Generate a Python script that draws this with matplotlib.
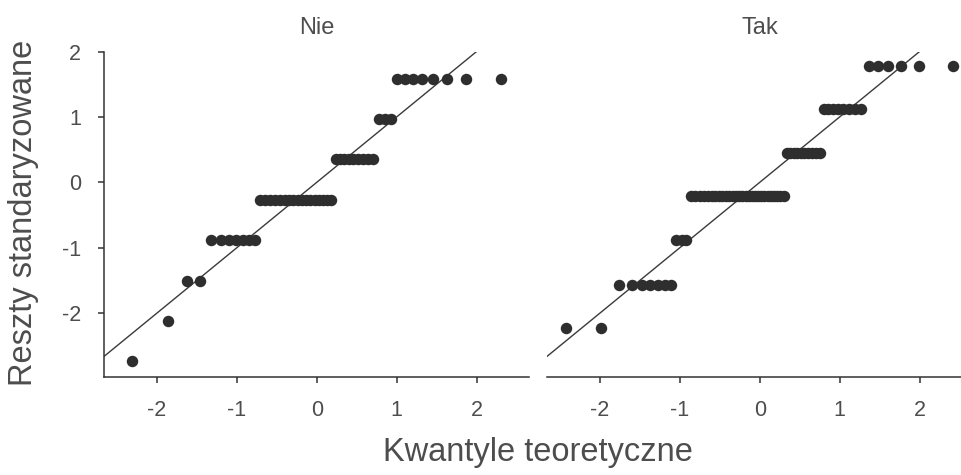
import matplotlib
matplotlib.use("Agg")
import matplotlib.pyplot as plt
import numpy as np
from statistics import NormalDist

plt.rcParams['font.family'] = ['Liberation Sans', 'DejaVu Sans']

# Standardized residuals per group: distinct levels and how many observations sit at each
panel_titles = ["Nie", "Tak"]
nie_levels = [-2.73, -2.12, -1.50, -0.887, -0.277, 0.354, 0.963, 1.573]
nie_counts = [1, 1, 2, 7, 17, 9, 3, 8]
tak_levels = [-2.233, -1.5625, -0.887, -0.216, 0.445, 1.116, 1.78]
tak_counts = [2, 7, 3, 28, 10, 8, 6]

x_ticks = [-2, -1, 0, 1, 2]
y_ticks = [-2, -1, 0, 1, 2]
x_label = "Kwantyle teoretyczne"
y_label = "Reszty standaryzowane"

TEXT = "#4d4d4d"
INK = "#333333"


def theoretical_quantiles(n):
    # plotting positions (i - a) / (n + 1 - 2a), a = 0.5 for n > 10
    a = 3 / 8 if n <= 10 else 0.5
    nd = NormalDist()
    return np.array([nd.inv_cdf((i - a) / (n + 1 - 2 * a)) for i in range(1, n + 1)])


W, H = 961, 475
fig = plt.figure(figsize=(W / 100, H / 100), dpi=100)

ax_w = 425 / W
ax_b = (H - 376.7) / H
ax_h = (376.7 - 51.5) / H
lefts = [104 / W, 547 / W]

groups = [(nie_levels, nie_counts), (tak_levels, tak_counts)]
axes = []
for k, (title, (levels, counts)) in enumerate(zip(panel_titles, groups)):
    ax = fig.add_axes([lefts[k], ax_b, ax_w, ax_h])
    axes.append(ax)
    resid = np.sort(np.repeat(levels, counts))
    q = theoretical_quantiles(len(resid))
    ax.scatter(q, resid, s=68, color="#2e2e2e", linewidths=0, zorder=3)
    ax.axline((0, 0), slope=1, color="#3a3a3a", lw=1.0, zorder=2)
    ax.set_xlim(-2.66, 2.655)
    ax.set_ylim(-2.97, 2.0)
    ax.set_xticks(x_ticks)
    ax.set_xticklabels([str(t) for t in x_ticks])
    for s in ["top", "right"]:
        ax.spines[s].set_visible(False)
    for s in ["left", "bottom"]:
        ax.spines[s].set_linewidth(1.1)
        ax.spines[s].set_color(INK)
    ax.tick_params(axis="both", length=4.5, width=1.1, color=INK,
                   labelcolor=TEXT, labelsize=15.5, pad=12)
    if k == 0:
        ax.set_yticks(y_ticks)
        ax.set_yticklabels([str(t) for t in y_ticks])
    else:
        ax.spines["left"].set_visible(False)
        ax.set_yticks([])
    ax.set_title(title, fontsize=17, color=TEXT, pad=12.5)
    ax.patch.set_alpha(0)

fig.text((104 + 972) / 2 / W, 1 - 453 / H, x_label, ha="center", va="center",
         fontsize=23.5, color=TEXT)
fig.text(24 / W, 1 - 213 / H, y_label, ha="center", va="center",
         rotation=90, fontsize=23.5, color=TEXT)

fig.savefig("out.png", dpi=100)
